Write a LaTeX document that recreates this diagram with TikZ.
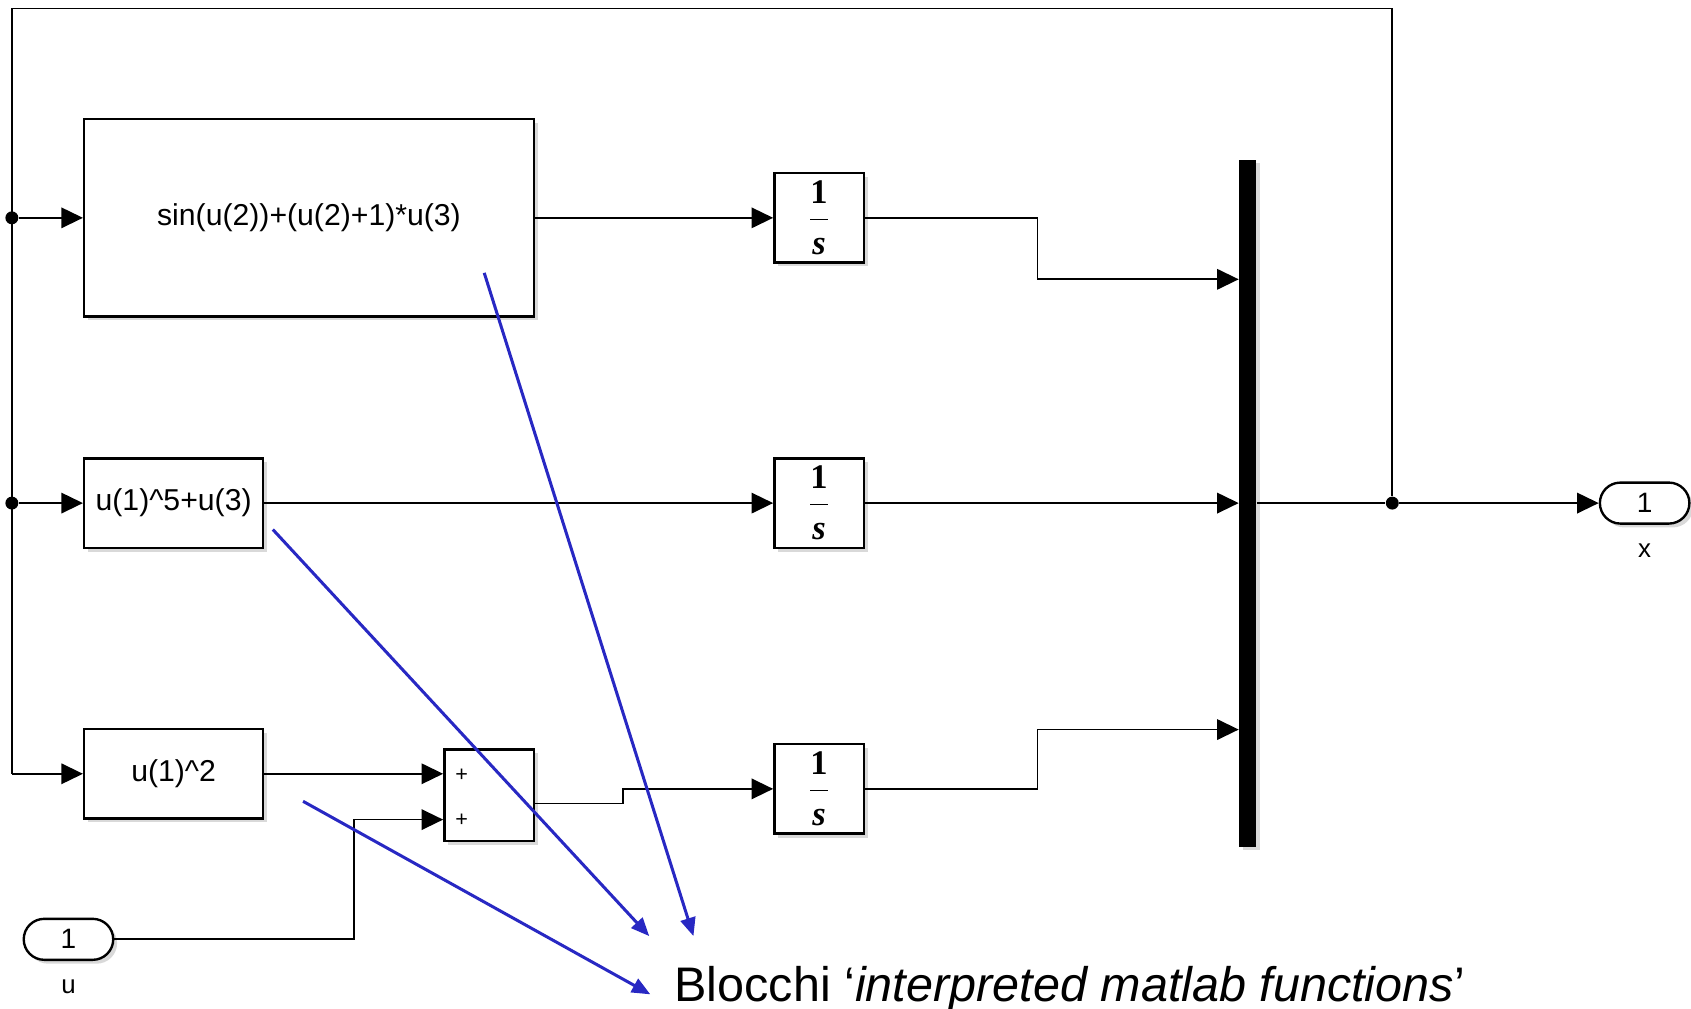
\documentclass[tikz,border=0pt]{standalone}
\usepackage{fontspec}
\setmainfont{Liberation Sans}
\newfontfamily\tnrfont{Liberation Serif}
\usetikzlibrary{arrows.meta,shadows}
\definecolor{annblue}{RGB}{40,40,195}
\newcommand{\intfrac}{$\displaystyle\frac{\mbox{\tnrfont\bfseries 1}}{\mbox{\tnrfont\bfseries\itshape s}}$}
\begin{document}
\begin{tikzpicture}[x=0.5pt,y=-0.5pt,
  blk/.style={draw, line width=1.1pt, fill=white, inner sep=0pt,
    drop shadow={shadow xshift=1.8pt,shadow yshift=-1.8pt,opacity=0.3},
    font=\fontsize{14}{16}\selectfont},
  intb/.style={blk, minimum width=41.5pt, minimum height=41.5pt, font=\fontsize{16}{18}\selectfont},
  port/.style={blk, rounded corners=9.5pt, minimum width=41.5pt, minimum height=19pt, font=\fontsize{13}{15}\selectfont},
  sig/.style={line width=0.8pt},
  arr/.style={sig, -{Triangle[length=10pt,width=9.5pt]}},
  ann/.style={draw=annblue, line width=1.4pt, -{Triangle[length=8.5pt,width=7pt]}},
  dot/.style={circle, fill=black, inner sep=0pt, minimum size=6pt},
  lbl/.style={font=\fontsize{12}{14}\selectfont}]
\useasboundingbox (0,0) rectangle (1568,935);

% blocks
\node[blk, minimum width=208.5pt, minimum height=91.5pt] (f1) at (286.5,202) {sin(u(2))+(u(2)+1)*u(3)};
\node[blk, minimum width=83pt, minimum height=41.5pt] (f2) at (161,466.5) {u(1)\^{}5+u(3)};
\node[blk, minimum width=83pt, minimum height=41.5pt] (f3) at (161,717.5) {u(1)\^{}2};
\node[blk, minimum width=41.5pt, minimum height=42.5pt] (sum) at (453.5,737.5) {};
\node[font=\fontsize{10}{11}\selectfont] (p1) at (428,719) {+};
\node[font=\fontsize{10}{11}\selectfont] (p2) at (428,761) {+};
\node[intb] (i1) at (759.5,202) {\intfrac};
\node[intb] (i2) at (759.5,466.5) {\intfrac};
\node[intb] (i3) at (759.5,731.5) {\intfrac};
\node[fill=black, inner sep=0pt, minimum width=8pt, minimum height=318.5pt,
  drop shadow={shadow xshift=1.8pt,shadow yshift=-1.8pt,opacity=0.3}] (mux) at (1157,466.5) {};
\node[port] (uin) at (63.5,871) {1};
\node[lbl] (ulbl) at (63.5,915) {u};
\node[port] (xout) at (1525,466.5) {1};
\node[lbl] (xlbl) at (1525,511) {x};

% junctions and corners
\node[dot] (d1) at (11,202) {};
\node[dot] (d2) at (11,466.5) {};
\node[dot] (d3) at (1291,466.5) {};
\coordinate (tl) at (11,8);
\coordinate (tr) at (1291,8);
\coordinate (bl) at (11,717.5);

% signal lines
\draw[sig] (bl) -- (tl) -- (tr) -- (d3);
\draw[arr] (d1) -- (d1 -| f1.west);
\draw[arr] (d2) -- (d2 -| f2.west);
\draw[arr] (bl) -- (f3.west);
\draw[arr] (f1.east) -- (i1.west);
\draw[arr] (f2.east) -- (i2.west);
\draw[arr] (f3.east) -- (f3.east -| sum.west);
\coordinate (s2) at (453.5,760);
\draw[arr] (uin.east) -- (328,871) -- (328,760) -- (s2 -| sum.west);
\coordinate (so) at (453.5,745);
\draw[arr] (so -| sum.east) -- (578,745) -- (578,731.5) -- (i3.west);
\coordinate (m1) at (1157,259);
\coordinate (m3) at (1157,676.5);
\draw[arr] (i1.east) -- (962,202) -- (962,259) -- (m1 -| mux.west);
\draw[arr] (i2.east) -- (i2.east -| mux.west);
\draw[arr] (i3.east) -- (962,731.5) -- (962,676.5) -- (m3 -| mux.west);
\draw[sig] (mux.east) -- (d3);
\draw[arr] (d3) -- (xout.west);

% annotation
\coordinate (a1) at (449,253);
\coordinate (a2) at (253,491);
\coordinate (a3) at (281,743);
\coordinate (h1) at (643,868);
\coordinate (h2) at (602,868);
\coordinate (h3) at (603,922);
\draw[ann] (a1) -- (h1);
\draw[ann] (a2) -- (h2);
\draw[ann] (a3) -- (h3);
\node[anchor=base west, inner sep=0pt, font=\fontsize{22.5}{26}\selectfont] (note) at (625,929) {Blocchi ‘\textit{interpreted matlab functions}’};
\end{tikzpicture}
\end{document}
